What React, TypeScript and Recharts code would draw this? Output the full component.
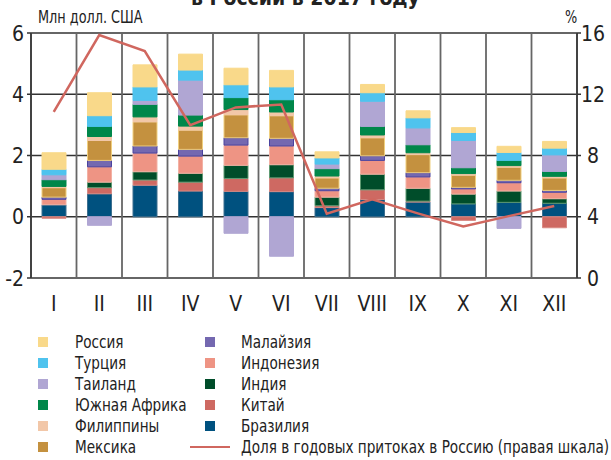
import React from 'react';
import { ComposedChart, Bar, Line, XAxis, YAxis, CartesianGrid } from 'recharts';

const months = ['I', 'II', 'III', 'IV', 'V', 'VI', 'VII', 'VIII', 'IX', 'X', 'XI', 'XII'];
const brazil = [0.39, 0.75, 1.03, 0.84, 0.83, 0.82, 0.30, 0.56, 0.48, 0.42, 0.47, 0.44];
const china = [-0.05, 0.20, 0.17, 0.29, 0.42, 0.45, 0.06, 0.32, 0.03, -0.12, 0, -0.36];
const india = [0, 0.18, 0.27, 0.29, 0.43, 0.43, 0.28, 0.51, 0.42, 0.32, 0.37, 0.15];
const indonesia = [0.18, 0.50, 0.61, 0.56, 0.66, 0.61, 0.21, 0.45, 0.37, 0.17, 0.27, 0.21];
const malaysia = [0.07, 0.21, 0.23, 0.22, 0.24, 0.25, 0.08, 0.15, 0.14, 0.05, 0.08, 0.06];
const mexico = [0.31, 0.65, 0.79, 0.63, 0.75, 0.74, 0.34, 0.59, 0.59, 0.40, 0.43, 0.41];
const philippines = [0.04, 0.13, 0.16, 0.13, 0.17, 0.12, 0.06, 0.09, 0.06, 0.05, 0.05, 0.05];
const southAfrica = [0.22, 0.33, 0.41, 0.36, 0.39, 0.40, 0.24, 0.28, 0.26, 0.19, 0.17, 0.16];
const thailand = [0.16, -0.28, 0.13, 1.14, -0.54, -1.29, 0.15, 0.82, 0.55, 0.89, -0.38, 0.54];
const turkey = [0.18, 0.35, 0.44, 0.33, 0.42, 0.42, 0.20, 0.28, 0.33, 0.26, 0.26, 0.22];
const russia = [0.54, 0.75, 0.72, 0.52, 0.54, 0.54, 0.20, 0.27, 0.23, 0.16, 0.20, 0.22];
const russiaShare = [10.85, 15.87, 14.82, 9.98, 11.14, 11.33, 4.2, 5.14, 4.22, 3.37, 4.04, 4.7];

const leftTicks = [-2, 0, 2, 4, 6];
const rightTicks = [0, 4, 8, 12, 16];

const title = 'в России в 2017 году';
const leftUnit = 'Млн долл. США';
const rightUnit = '%';
const lineName = 'Доля в годовых притоках в Россию (правая шкала)';

// stacking order bottom -> top
const series = [
  { key: 'brazil', name: 'Бразилия', values: brazil, color: '#00517F', stroke: '#3d6f8f' },
  { key: 'china', name: 'Китай', values: china, color: '#CE6962', stroke: '#d98a84' },
  { key: 'india', name: 'Индия', values: india, color: '#004D2A', stroke: '#5e9a72' },
  { key: 'indonesia', name: 'Индонезия', values: indonesia, color: '#EE9484', stroke: '#f3b1a4' },
  { key: 'malaysia', name: 'Малайзия', values: malaysia, color: '#7468B0', stroke: '#4a429e' },
  { key: 'mexico', name: 'Мексика', values: mexico, color: '#C4913F', stroke: '#f0cf7e' },
  { key: 'philippines', name: 'Филиппины', values: philippines, color: '#F2C7A8', stroke: '#F2C7A8' },
  { key: 'southAfrica', name: 'Южная Африка', values: southAfrica, color: '#00874A', stroke: '#00874A' },
  { key: 'thailand', name: 'Таиланд', values: thailand, color: '#B0A6D3', stroke: '#B0A6D3' },
  { key: 'turkey', name: 'Турция', values: turkey, color: '#4FC3EE', stroke: '#4FC3EE' },
  { key: 'russia', name: 'Россия', values: russia, color: '#F9D98A', stroke: '#F9D98A' },
];

const legendCol1 = ['russia', 'turkey', 'thailand', 'southAfrica', 'philippines', 'mexico'];
const legendCol2 = ['malaysia', 'indonesia', 'india', 'china', 'brazil'];

const data = months.map((m, i) => {
  const row: any = { month: m, share: russiaShare[i] };
  series.forEach((s) => {
    row[s.key] = s.values[i];
  });
  return row;
});

const FONT = '"DejaVu Sans Condensed", "Liberation Sans Narrow", sans-serif';

const LeftTick = (props: any) => {
  const { x, y, payload } = props;
  return (
    <text x={x} y={y} dy="0.36em" textAnchor="end" fontSize={21} fill="#222" fontFamily={FONT}>
      {payload.value}
    </text>
  );
};

const RightTick = (props: any) => {
  const { x, y, payload } = props;
  return (
    <text x={x + 10} y={y} dy="0.36em" textAnchor="middle" fontSize={21} fill="#222" fontFamily={FONT}>
      {payload.value}
    </text>
  );
};

const MonthTick = (props: any) => {
  const { x, y, payload } = props;
  return (
    <text x={x} y={y} dy="0.75em" textAnchor="middle" fontSize={21} fill="#222" fontFamily={FONT}>
      {payload.value}
    </text>
  );
};

const boundaries = (props: any) => {
  const { offset } = props;
  const n = months.length;
  const out: number[] = [];
  for (let i = 0; i <= n; i++) out.push(offset.left + (i * offset.width) / n);
  return out;
};

const byKey = (k: string) => series.find((s) => s.key === k)!;

const narrow: React.CSSProperties = {
  transform: 'scaleX(0.84)',
  transformOrigin: 'left center',
  whiteSpace: 'nowrap',
};

export default function App() {
  const rowTop = (i: number) => 332 + i * 21;
  return (
    <div style={{ position: 'absolute', left: 0, top: 0, width: 611, height: 460, background: '#fff', overflow: 'hidden', fontFamily: FONT, color: '#222' }}>
      <div style={{ position: 'absolute', left: 0, width: 611, top: -12, textAlign: 'center', fontWeight: 'bold', fontSize: 21, lineHeight: '20px', fontFamily: FONT }}>
        {title}
      </div>
      <div style={{ position: 'absolute', left: 38, top: 8, fontSize: 17, lineHeight: '18px', ...narrow }}>{leftUnit}</div>
      <div style={{ position: 'absolute', left: 565, top: 8, fontSize: 17, lineHeight: '18px', ...narrow }}>{rightUnit}</div>
      <div style={{ position: 'absolute', left: 0, top: 0 }}>
        <ComposedChart
          width={611}
          height={320}
          data={data}
          stackOffset="sign"
          margin={{ top: 33, right: 0, bottom: 0, left: 0 }}
        >
          <CartesianGrid
            yAxisId="left"
            vertical={false}
            stroke="#333"
            strokeWidth={1.5}
          />
          <CartesianGrid
            yAxisId="left"
            horizontal={false}
            verticalCoordinatesGenerator={boundaries}
            stroke="#666"
            strokeWidth={1.8}
          />
          <XAxis
            dataKey="month"
            axisLine={false}
            tickLine={false}
            tickMargin={11}
            height={42}
            tick={<MonthTick />}
            interval={0}
          />
          <YAxis
            yAxisId="left"
            domain={[-2, 6]}
            ticks={leftTicks}
            width={31}
            axisLine={{ stroke: '#333', strokeWidth: 1.5 }}
            tickLine={{ stroke: '#333', strokeWidth: 1.5 }}
            tickSize={4}
            tickMargin={3}
            tick={<LeftTick />}
            allowDataOverflow
          />
          <YAxis
            yAxisId="right"
            orientation="right"
            domain={[0, 16]}
            ticks={rightTicks}
            width={34}
            axisLine={{ stroke: '#333', strokeWidth: 1.5 }}
            tickLine={{ stroke: '#333', strokeWidth: 1.5 }}
            tickSize={4}
            tickMargin={2}
            tick={<RightTick />}
            allowDataOverflow
          />
          {series.map((s) => (
            <Bar
              key={s.key}
              yAxisId="left"
              dataKey={s.key}
              name={s.name}
              stackId="a"
              fill={s.color}
              stroke={s.stroke}
              strokeWidth={1}
              barSize={24}
              isAnimationActive={false}
            />
          ))}
          <Line
            yAxisId="right"
            dataKey="share"
            name={lineName}
            type="linear"
            stroke="#D0675F"
            strokeWidth={2.5}
            dot={false}
            activeDot={false}
            isAnimationActive={false}
          />
        </ComposedChart>
      </div>
      {legendCol1.map((k, i) => {
        const s = byKey(k);
        return (
          <React.Fragment key={k}>
            <div style={{ position: 'absolute', left: 38, top: rowTop(i) + 5, width: 10, height: 10, background: s.color }} />
            <div style={{ position: 'absolute', left: 75, top: rowTop(i), fontSize: 18, lineHeight: '20px', ...narrow }}>{s.name}</div>
          </React.Fragment>
        );
      })}
      {legendCol2.map((k, i) => {
        const s = byKey(k);
        return (
          <React.Fragment key={k}>
            <div style={{ position: 'absolute', left: 205, top: rowTop(i) + 5, width: 10, height: 10, background: s.color }} />
            <div style={{ position: 'absolute', left: 241, top: rowTop(i), fontSize: 18, lineHeight: '20px', ...narrow }}>{s.name}</div>
          </React.Fragment>
        );
      })}
      <div style={{ position: 'absolute', left: 190, top: rowTop(5) + 9, width: 40, height: 2, background: '#D0675F' }} />
      <div style={{ position: 'absolute', left: 241, top: rowTop(5), fontSize: 18, lineHeight: '20px', ...narrow }}>{lineName}</div>
    </div>
  );
}
